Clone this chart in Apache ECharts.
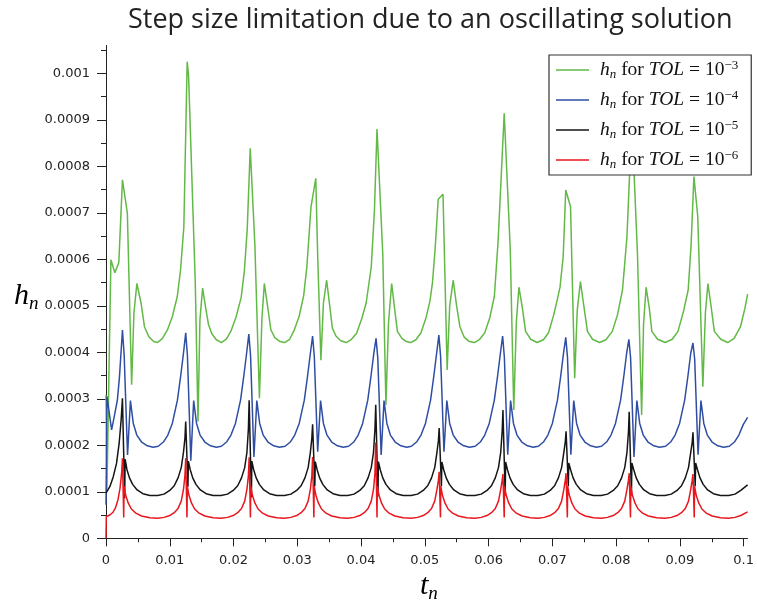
<!DOCTYPE html>
<html>
<head>
<meta charset="utf-8">
<script src="https://cdn.jsdelivr.net/npm/echarts@6/dist/echarts.min.js"></script>
<style>
  html, body { margin: 0; padding: 0; background: #fff; }
  #main { width: 757px; height: 603px; }
</style>
</head>
<body>
<div id="main"></div>
<script>
// Step sizes h_n accepted by the adaptive integrator, as [t_n, h_n] pairs (seconds).
const greenSteps = [ // TOL = 1e-3
  [0, 0.000308], [0.00015, 0.000105], [0.00077, 0.000599], [0.00139, 0.000571], [0.00201, 0.000593],
  [0.00258, 0.000771], [0.00335, 0.000699], [0.00402, 0.000330], [0.00438, 0.000484], [0.00484, 0.000548],
  [0.00551, 0.000505], [0.00603, 0.000455], [0.00670, 0.000434], [0.00747, 0.000423], [0.00809, 0.000421],
  [0.00886, 0.000430], [0.00963, 0.000448], [0.01041, 0.000477], [0.01118, 0.000520], [0.01169, 0.000577],
  [0.01221, 0.000670], [0.01273, 0.001025], [0.01295, 0.000995], [0.01400, 0.000550], [0.01443, 0.000251],
  [0.01473, 0.000470], [0.01515, 0.000538], [0.01560, 0.000498], [0.01607, 0.000460], [0.01660, 0.000440],
  [0.01730, 0.000427], [0.01810, 0.000421], [0.01890, 0.000429], [0.01960, 0.000446], [0.02040, 0.000476],
  [0.02120, 0.000518], [0.02170, 0.000575], [0.02215, 0.000665], [0.02262, 0.000839], [0.02335, 0.000630],
  [0.02406, 0.000301], [0.02445, 0.000472], [0.02483, 0.000548], [0.02535, 0.000498], [0.02586, 0.000448],
  [0.02650, 0.000431], [0.02730, 0.000423], [0.02800, 0.000421], [0.02880, 0.000428], [0.02950, 0.000447],
  [0.03030, 0.000478], [0.03100, 0.000522], [0.03150, 0.000584], [0.03215, 0.000713], [0.03290, 0.000774],
  [0.03320, 0.000606], [0.03370, 0.000383], [0.03410, 0.000506], [0.03460, 0.000555], [0.03510, 0.000498],
  [0.03550, 0.000452], [0.03606, 0.000435], [0.03680, 0.000425], [0.03770, 0.000421], [0.03850, 0.000428],
  [0.03930, 0.000441], [0.04010, 0.000472], [0.04080, 0.000506], [0.04160, 0.000584], [0.04210, 0.000706],
  [0.04250, 0.000880], [0.04340, 0.000613], [0.04390, 0.000287], [0.04430, 0.000463], [0.04480, 0.000548],
  [0.04525, 0.000495], [0.04570, 0.000445], [0.04640, 0.000430], [0.04710, 0.000423], [0.04780, 0.000421],
  [0.04860, 0.000427], [0.04940, 0.000442], [0.05020, 0.000475], [0.05080, 0.000510], [0.05120, 0.000550],
  [0.05160, 0.000620], [0.05210, 0.000729], [0.05285, 0.000740], [0.05350, 0.000362], [0.05390, 0.000500],
  [0.05445, 0.000555], [0.05500, 0.000498], [0.05550, 0.000455], [0.05620, 0.000432], [0.05700, 0.000423],
  [0.05780, 0.000421], [0.05860, 0.000428], [0.05940, 0.000442], [0.06020, 0.000475], [0.06090, 0.000520],
  [0.06150, 0.000641], [0.06245, 0.000914], [0.06340, 0.000620], [0.06395, 0.000276], [0.06435, 0.000465],
  [0.06476, 0.000540], [0.06530, 0.000495], [0.06580, 0.000445], [0.06660, 0.000428], [0.06760, 0.000421],
  [0.06860, 0.000427], [0.06940, 0.000442], [0.07020, 0.000480], [0.07080, 0.000515], [0.07120, 0.000540],
  [0.07170, 0.000606], [0.07210, 0.000749], [0.07285, 0.000713], [0.07350, 0.000344], [0.07390, 0.000490],
  [0.07440, 0.000552], [0.07495, 0.000498], [0.07550, 0.000445], [0.07630, 0.000428], [0.07740, 0.000421],
  [0.07840, 0.000427], [0.07940, 0.000445], [0.08020, 0.000480], [0.08100, 0.000534], [0.08170, 0.000649],
  [0.08235, 0.000860], [0.08280, 0.000790], [0.08335, 0.000610], [0.08400, 0.000265], [0.08430, 0.000460],
  [0.08470, 0.000540], [0.08520, 0.000495], [0.08560, 0.000445], [0.08650, 0.000428], [0.08770, 0.000421],
  [0.08880, 0.000428], [0.08970, 0.000445], [0.09060, 0.000490], [0.09130, 0.000534], [0.09175, 0.000630],
  [0.09220, 0.000778], [0.09280, 0.000692], [0.09360, 0.000326], [0.09400, 0.000485], [0.09440, 0.000548],
  [0.09490, 0.000498], [0.09540, 0.000445], [0.09640, 0.000428], [0.09750, 0.000421], [0.09850, 0.000430],
  [0.09950, 0.000455], [0.10020, 0.000495], [0.10062, 0.000525]
];

const blueSteps = [ // TOL = 1e-4
  [0, 0.000072], [0.00015, 0.000305], [0.00088, 0.000233], [0.0013, 0.000262], [0.00178, 0.000297],
  [0.0021, 0.000345], [0.00235, 0.000398], [0.00258, 0.000448],
  [0.00285, 0.000393], [0.00338, 0.000179], [0.00383, 0.000296], [0.00428, 0.000247], [0.00483, 0.000222],
  [0.00558, 0.000207], [0.00648, 0.000199], [0.00738, 0.000196],
  [0.0082, 0.000198], [0.009, 0.000207], [0.0097, 0.000222], [0.0104, 0.000247], [0.0112, 0.000297],
  [0.0117, 0.000348], [0.01215, 0.000398], [0.0125, 0.000442],
  [0.01277, 0.000393], [0.0133, 0.000167], [0.01375, 0.000296], [0.0142, 0.000247], [0.01475, 0.000222],
  [0.0155, 0.000207], [0.0164, 0.000199], [0.0173, 0.000196],
  [0.0181, 0.000198], [0.0189, 0.000207], [0.0196, 0.000222], [0.0203, 0.000247], [0.0211, 0.000297],
  [0.0216, 0.000348], [0.02205, 0.000398], [0.0224, 0.000439],
  [0.02267, 0.000393], [0.0232, 0.000175], [0.02365, 0.000296], [0.0241, 0.000247], [0.02465, 0.000222],
  [0.0254, 0.000207], [0.0263, 0.000199], [0.0272, 0.000196],
  [0.0281, 0.000198], [0.0289, 0.000207], [0.0296, 0.000222], [0.0303, 0.000247], [0.0311, 0.000297],
  [0.0316, 0.000348], [0.03205, 0.000398], [0.0324, 0.000435],
  [0.03267, 0.00039], [0.0332, 0.000186], [0.03365, 0.000296], [0.0341, 0.000247], [0.03465, 0.000222],
  [0.0354, 0.000207], [0.0363, 0.000199], [0.0372, 0.000196],
  [0.03805, 0.000198], [0.03885, 0.000207], [0.03955, 0.000222], [0.04025, 0.000247], [0.04105, 0.000297],
  [0.04155, 0.000348], [0.042, 0.000398], [0.04235, 0.00043],
  [0.04262, 0.000388], [0.04315, 0.000179], [0.0436, 0.000296], [0.04405, 0.000247], [0.0446, 0.000222],
  [0.04535, 0.000207], [0.04625, 0.000199], [0.04715, 0.000196],
  [0.0479, 0.000198], [0.0487, 0.000207], [0.0494, 0.000222], [0.0501, 0.000247], [0.0509, 0.000297],
  [0.0514, 0.000348], [0.05185, 0.000398], [0.0522, 0.000437],
  [0.05247, 0.000392], [0.053, 0.000186], [0.05345, 0.000296], [0.0539, 0.000247], [0.05445, 0.000222],
  [0.0552, 0.000207], [0.0561, 0.000199], [0.057, 0.000196],
  [0.0579, 0.000198], [0.0587, 0.000207], [0.0594, 0.000222], [0.0601, 0.000247], [0.0609, 0.000297],
  [0.0614, 0.000348], [0.06185, 0.000398], [0.0622, 0.000435],
  [0.06247, 0.00039], [0.063, 0.00018], [0.06345, 0.000296], [0.0639, 0.000247], [0.06445, 0.000222],
  [0.0652, 0.000207], [0.0661, 0.000199], [0.067, 0.000196],
  [0.0678, 0.000198], [0.0686, 0.000207], [0.0693, 0.000222], [0.07, 0.000247], [0.0708, 0.000297],
  [0.0713, 0.000348], [0.07175, 0.000398], [0.0721, 0.000432],
  [0.07237, 0.00039], [0.0729, 0.00018], [0.07335, 0.000296], [0.0738, 0.000247], [0.07435, 0.000222],
  [0.0751, 0.000207], [0.076, 0.000199], [0.0769, 0.000196],
  [0.0777, 0.000198], [0.0785, 0.000207], [0.0792, 0.000222], [0.0799, 0.000247], [0.0807, 0.000297],
  [0.0812, 0.000348], [0.08165, 0.000398], [0.082, 0.000428],
  [0.08227, 0.000388], [0.0828, 0.000175], [0.08325, 0.000296], [0.0837, 0.000247], [0.08425, 0.000222],
  [0.085, 0.000207], [0.0859, 0.000199], [0.0868, 0.000196],
  [0.08775, 0.000198], [0.08855, 0.000207], [0.08925, 0.000222], [0.08995, 0.000247], [0.09075, 0.000297],
  [0.09125, 0.000348], [0.0917, 0.000398], [0.09205, 0.00042],
  [0.09232, 0.000385], [0.09285, 0.00018], [0.0933, 0.000296], [0.09375, 0.000247], [0.0943, 0.000222],
  [0.09505, 0.000207], [0.09595, 0.000199], [0.09685, 0.000196],
  [0.09775, 0.000198], [0.09855, 0.000207], [0.09925, 0.000222], [0.09995, 0.000245], [0.10062, 0.00026]
];

const blackSteps = [ // TOL = 1e-5
  [0, 0.000097], [0.0006, 0.000111], [0.00113, 0.000132], [0.00165, 0.000161], [0.00206, 0.000204],
  [0.00237, 0.000254], [0.00258, 0.000301],
  [0.00293, 0.000086], [0.003, 0.00017], [0.00328, 0.000148], [0.00368, 0.00013], [0.00418, 0.000116],
  [0.00488, 0.000104], [0.00578, 0.000096], [0.00688, 0.000092],
  [0.0081, 0.000092], [0.0091, 0.000095], [0.01, 0.000103], [0.0107, 0.000113], [0.0113, 0.00013],
  [0.0118, 0.000152], [0.01215, 0.000185], [0.01238, 0.000215], [0.0125, 0.000251],
  [0.01285, 0.000111], [0.01292, 0.000166], [0.0132, 0.000148], [0.0136, 0.00013], [0.0141, 0.000116],
  [0.0148, 0.000104], [0.0157, 0.000096], [0.0168, 0.000092],
  [0.01805, 0.000092], [0.01905, 0.000095], [0.01995, 0.000103], [0.02065, 0.000113], [0.02125, 0.00013],
  [0.02175, 0.000152], [0.0221, 0.000185], [0.02233, 0.000235], [0.02245, 0.000297],
  [0.0228, 0.000088], [0.02287, 0.000166], [0.02315, 0.000148], [0.02355, 0.00013], [0.02405, 0.000116],
  [0.02475, 0.000104], [0.02565, 0.000096], [0.02675, 0.000092],
  [0.028, 0.000092], [0.029, 0.000095], [0.0299, 0.000103], [0.0306, 0.000113], [0.0312, 0.00013],
  [0.0317, 0.000152], [0.03205, 0.000185], [0.03228, 0.000215], [0.0324, 0.000245],
  [0.03275, 0.000112], [0.03282, 0.000165], [0.0331, 0.000148], [0.0335, 0.00013], [0.034, 0.000116],
  [0.0347, 0.000104], [0.0356, 0.000096], [0.0367, 0.000092],
  [0.0379, 0.000092], [0.0389, 0.000095], [0.0398, 0.000103], [0.0405, 0.000113], [0.0411, 0.00013],
  [0.0416, 0.000152], [0.04195, 0.000185], [0.04218, 0.000235], [0.0423, 0.000287],
  [0.04265, 0.00009], [0.04272, 0.000165], [0.043, 0.000148], [0.0434, 0.00013], [0.0439, 0.000116],
  [0.0446, 0.000104], [0.0455, 0.000096], [0.0466, 0.000092],
  [0.04785, 0.000092], [0.04885, 0.000095], [0.04975, 0.000103], [0.05045, 0.000113], [0.05105, 0.00013],
  [0.05155, 0.000152], [0.0519, 0.000185], [0.05213, 0.00021], [0.05225, 0.000237],
  [0.0526, 0.000112], [0.05267, 0.000164], [0.05295, 0.000148], [0.05335, 0.00013], [0.05385, 0.000116],
  [0.05455, 0.000104], [0.05545, 0.000096], [0.05655, 0.000092],
  [0.05785, 0.000092], [0.05885, 0.000095], [0.05975, 0.000103], [0.06045, 0.000113], [0.06105, 0.00013],
  [0.06155, 0.000152], [0.0619, 0.000185], [0.06213, 0.00023], [0.06225, 0.000276],
  [0.0626, 0.000092], [0.06267, 0.000164], [0.06295, 0.000148], [0.06335, 0.00013], [0.06385, 0.000116],
  [0.06455, 0.000104], [0.06545, 0.000096], [0.06655, 0.000092],
  [0.06775, 0.000092], [0.06875, 0.000095], [0.06965, 0.000103], [0.07035, 0.000113], [0.07095, 0.00013],
  [0.07145, 0.000152], [0.0718, 0.000185], [0.07203, 0.000208], [0.07215, 0.00023],
  [0.0725, 0.000112], [0.07257, 0.000162], [0.07285, 0.000148], [0.07325, 0.00013], [0.07375, 0.000116],
  [0.07445, 0.000104], [0.07535, 0.000096], [0.07645, 0.000092],
  [0.07765, 0.000092], [0.07865, 0.000095], [0.07955, 0.000103], [0.08025, 0.000113], [0.08085, 0.00013],
  [0.08135, 0.000152], [0.0817, 0.000185], [0.08193, 0.000228], [0.08205, 0.000272],
  [0.0824, 0.000092], [0.08247, 0.000162], [0.08275, 0.000148], [0.08315, 0.00013], [0.08365, 0.000116],
  [0.08435, 0.000104], [0.08525, 0.000096], [0.08635, 0.000092],
  [0.08765, 0.000092], [0.08865, 0.000095], [0.08955, 0.000103], [0.09025, 0.000113], [0.09085, 0.00013],
  [0.09135, 0.000152], [0.0917, 0.000185], [0.09193, 0.000206], [0.09205, 0.000228],
  [0.0924, 0.000112], [0.09247, 0.000162], [0.09275, 0.000148], [0.09315, 0.00013], [0.09365, 0.000116],
  [0.09435, 0.000104], [0.09525, 0.000096], [0.09635, 0.000092],
  [0.09765, 0.000092], [0.09865, 0.000095], [0.09955, 0.000103], [0.10062, 0.000115]
];

const redSteps = [ // TOL = 1e-6
  [0, 0], [0.00005, 0.000047], [0.0006, 0.00005], [0.0011, 0.000056], [0.0015, 0.000066],
  [0.0019, 0.000084], [0.0022, 0.000108], [0.00245, 0.00014], [0.00258, 0.000172],
  [0.00278, 0.000045], [0.00283, 0.000112], [0.00308, 0.000093], [0.00348, 0.000076], [0.00398, 0.000063],
  [0.00468, 0.000054], [0.00558, 0.000048], [0.00688, 0.000044],
  [0.0081, 0.000043], [0.0091, 0.000045], [0.01, 0.000049], [0.0107, 0.000055], [0.0113, 0.000064],
  [0.0118, 0.00008], [0.01215, 0.000105], [0.01238, 0.000135], [0.0125, 0.000172],
  [0.0127, 0.000045], [0.01275, 0.000112], [0.013, 0.000093], [0.0134, 0.000076], [0.0139, 0.000063],
  [0.0146, 0.000054], [0.0155, 0.000048], [0.0168, 0.000044],
  [0.01805, 0.000043], [0.01905, 0.000045], [0.01995, 0.000049], [0.02065, 0.000055], [0.02125, 0.000064],
  [0.02175, 0.00008], [0.0221, 0.000105], [0.02233, 0.000135], [0.02245, 0.000174],
  [0.02265, 0.000045], [0.0227, 0.000112], [0.02295, 0.000093], [0.02335, 0.000076], [0.02385, 0.000063],
  [0.02455, 0.000054], [0.02545, 0.000048], [0.02675, 0.000044],
  [0.028, 0.000043], [0.029, 0.000045], [0.0299, 0.000049], [0.0306, 0.000055], [0.0312, 0.000064],
  [0.0317, 0.00008], [0.03205, 0.000105], [0.03228, 0.000135], [0.0324, 0.000175],
  [0.0326, 0.000045], [0.03265, 0.000112], [0.0329, 0.000093], [0.0333, 0.000076], [0.0338, 0.000063],
  [0.0345, 0.000054], [0.0354, 0.000048], [0.0367, 0.000044],
  [0.0379, 0.000043], [0.0389, 0.000045], [0.0398, 0.000049], [0.0405, 0.000055], [0.0411, 0.000064],
  [0.0416, 0.00008], [0.04195, 0.000105], [0.04218, 0.00014], [0.0423, 0.000206],
  [0.0425, 0.000045], [0.04255, 0.000112], [0.0428, 0.000093], [0.0432, 0.000076], [0.0437, 0.000063],
  [0.0444, 0.000054], [0.0453, 0.000048], [0.0466, 0.000044],
  [0.04785, 0.000043], [0.04885, 0.000045], [0.04975, 0.000049], [0.05045, 0.000055], [0.05105, 0.000064],
  [0.05155, 0.00008], [0.0519, 0.000105], [0.05213, 0.000125], [0.05225, 0.000143],
  [0.05245, 0.000045], [0.0525, 0.000112], [0.05275, 0.000093], [0.05315, 0.000076], [0.05365, 0.000063],
  [0.05435, 0.000054], [0.05525, 0.000048], [0.05655, 0.000044],
  [0.05785, 0.000043], [0.05885, 0.000045], [0.05975, 0.000049], [0.06045, 0.000055], [0.06105, 0.000064],
  [0.06155, 0.00008], [0.0619, 0.000105], [0.06213, 0.000125], [0.06225, 0.000138],
  [0.06245, 0.000045], [0.0625, 0.000112], [0.06275, 0.000093], [0.06315, 0.000076], [0.06365, 0.000063],
  [0.06435, 0.000054], [0.06525, 0.000048], [0.06655, 0.000044],
  [0.06775, 0.000043], [0.06875, 0.000045], [0.06965, 0.000049], [0.07035, 0.000055], [0.07095, 0.000064],
  [0.07145, 0.00008], [0.0718, 0.000105], [0.07203, 0.000125], [0.07215, 0.00014],
  [0.07235, 0.000045], [0.0724, 0.000112], [0.07265, 0.000093], [0.07305, 0.000076], [0.07355, 0.000063],
  [0.07425, 0.000054], [0.07515, 0.000048], [0.07645, 0.000044],
  [0.07765, 0.000043], [0.07865, 0.000045], [0.07955, 0.000049], [0.08025, 0.000055], [0.08085, 0.000064],
  [0.08135, 0.00008], [0.0817, 0.000105], [0.08193, 0.000125], [0.08205, 0.00014],
  [0.08225, 0.000045], [0.0823, 0.000112], [0.08255, 0.000093], [0.08295, 0.000076], [0.08345, 0.000063],
  [0.08415, 0.000054], [0.08505, 0.000048], [0.08635, 0.000044],
  [0.08765, 0.000043], [0.08865, 0.000045], [0.08955, 0.000049], [0.09025, 0.000055], [0.09085, 0.000064],
  [0.09135, 0.00008], [0.0917, 0.000105], [0.09193, 0.000125], [0.09205, 0.000138],
  [0.09225, 0.000045], [0.0923, 0.000112], [0.09255, 0.000093], [0.09295, 0.000076], [0.09345, 0.000063],
  [0.09415, 0.000054], [0.09505, 0.000048], [0.09635, 0.000044],
  [0.09765, 0.000043], [0.09865, 0.000045], [0.09955, 0.000049], [0.10062, 0.000057]
];

// Tolerances (legend exponents) and series names
const tolExponents = ['−3', '−4', '−5', '−6'];
const seriesNames = ['TOL 1e-3', 'TOL 1e-4', 'TOL 1e-5', 'TOL 1e-6'];

// Axis ticks
const xTicks = [0, 0.01, 0.02, 0.03, 0.04, 0.05, 0.06, 0.07, 0.08, 0.09, 0.1];
const xMinorTicks = [0.005, 0.015, 0.025, 0.035, 0.045, 0.055, 0.065, 0.075, 0.085, 0.095];
const yTicks = [0, 0.0001, 0.0002, 0.0003, 0.0004, 0.0005, 0.0006, 0.0007, 0.0008, 0.0009, 0.001];
const yMinorTicks = [0.00005, 0.00015, 0.00025, 0.00035, 0.00045, 0.00055, 0.00065, 0.00075, 0.00085, 0.00095, 0.00105];

const X_MAX = 0.1006;
const Y_MAX = 0.00106;

const lineColors = ['#62b946', '#2f4ea3', '#151515', '#e8161d'];
const axisColor = '#222';
const labelFont = 'DejaVu Sans';
const mathFont = 'Liberation Serif';

const chart = echarts.init(document.getElementById('main'), null, { renderer: 'canvas' });

const seriesData = [greenSteps, blueSteps, blackSteps, redSteps];

const legendRich = {
  h: { fontFamily: mathFont, fontStyle: 'italic', fontSize: 19.5, lineHeight: 22, color: '#111' },
  n: { fontFamily: mathFont, fontStyle: 'italic', fontSize: 13, lineHeight: 12, verticalAlign: 'bottom', color: '#111' },
  t: { fontFamily: mathFont, fontSize: 19.5, lineHeight: 22, color: '#111' },
  i: { fontFamily: mathFont, fontStyle: 'italic', fontSize: 19.5, lineHeight: 22, color: '#111' },
  s: { fontFamily: mathFont, fontSize: 13, lineHeight: 12, verticalAlign: 'top', color: '#111' }
};

const axisNameRich = {
  h: { fontFamily: mathFont, fontStyle: 'italic', fontSize: 30, lineHeight: 34, color: '#111' },
  n: { fontFamily: mathFont, fontStyle: 'italic', fontSize: 19, lineHeight: 18, verticalAlign: 'bottom', color: '#111' }
};

const option = {
  animation: false,
  backgroundColor: '#fff',
  title: {
    text: 'Step size limitation due to an oscillating solution',
    left: 123,
    top: 2,
    textStyle: { fontFamily: 'Open Sans', fontSize: 27, fontWeight: 'normal', color: '#222' }
  },
  grid: { left: 106, right: 0, top: 45.4, bottom: 64.7, containLabel: false },
  legend: {
    orient: 'vertical',
    left: 549,
    top: 55,
    padding: [4, 13, 4, 7],
    icon: 'rect',
    itemWidth: 33,
    itemHeight: 1.6,
    itemGap: 8,
    backgroundColor: '#fff',
    borderColor: '#333',
    borderWidth: 1.2,
    data: seriesNames,
    formatter: name => {
      const k = seriesNames.indexOf(name);
      return '{h|h}{n|n}{t| for }{i|TOL}{t| = 10}{s|' + tolExponents[k] + '}';
    },
    textStyle: { padding: [0, 0, 0, 6], rich: legendRich }
  },
  xAxis: [
    {
      type: 'value', min: 0, max: X_MAX, position: 'bottom',
      axisLine: { show: true, onZero: false, lineStyle: { color: axisColor, width: 1 } },
      axisTick: { show: true, customValues: xTicks, length: 8, lineStyle: { color: axisColor } },
      axisLabel: {
        customValues: xTicks, formatter: v => String(v), margin: 16,
        fontFamily: labelFont, fontSize: 13, color: axisColor
      },
      splitLine: { show: false }
    },
    {
      type: 'value', min: 0, max: X_MAX, position: 'bottom',
      axisLine: { show: false },
      axisTick: { show: true, customValues: xMinorTicks, length: 4, lineStyle: { color: axisColor } },
      axisLabel: { show: false },
      splitLine: { show: false }
    }
  ],
  yAxis: [
    {
      type: 'value', min: 0, max: Y_MAX, position: 'left',
      axisLine: { show: true, onZero: false, lineStyle: { color: axisColor, width: 1 } },
      axisTick: { show: true, customValues: yTicks, length: 9, lineStyle: { color: axisColor } },
      axisLabel: {
        customValues: yTicks, formatter: v => String(v), margin: 16,
        fontFamily: labelFont, fontSize: 13, color: axisColor
      },
      splitLine: { show: false }
    },
    {
      type: 'value', min: 0, max: Y_MAX, position: 'left',
      axisLine: { show: false },
      axisTick: { show: true, customValues: yMinorTicks, length: 5, lineStyle: { color: axisColor } },
      axisLabel: { show: false },
      splitLine: { show: false }
    }
  ],
  graphic: [
    { type: 'text', left: 14, top: 281, style: { text: '{h|h}{n|n}', rich: axisNameRich } },
    { type: 'text', left: 420, top: 571, style: { text: '{h|t}{n|n}', rich: axisNameRich } }
  ],
  series: seriesData.map((d, k) => ({
    name: seriesNames[k],
    type: 'line',
    xAxisIndex: 0,
    yAxisIndex: 0,
    data: d,
    symbol: 'none',
    showSymbol: false,
    clip: true,
    lineStyle: { color: lineColors[k], width: 1.5 },
    itemStyle: { color: lineColors[k] },
    z: 2 + k
  }))
};

chart.setOption(option);
</script>
</body>
</html>
